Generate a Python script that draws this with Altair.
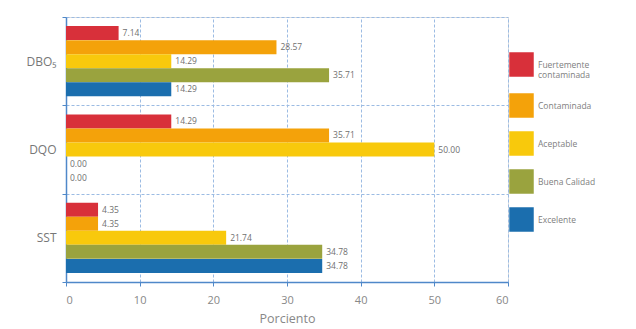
import altair as alt
import pandas as pd

params = ["DBO₅", "DQO", "SST"]
categories = ["Fuertemente contaminada", "Contaminada", "Aceptable", "Buena Calidad", "Excelente"]
colors = ["#d8303a", "#f4a20a", "#f8c90c", "#9aa33e", "#1b6eae"]
dbo5 = [7.14, 28.57, 14.29, 35.71, 14.29]
dqo = [14.29, 35.71, 50.00, 0.00, 0.00]
sst = [4.35, 4.35, 21.74, 34.78, 34.78]
x_ticks = [0, 10, 20, 30, 40, 50, 60]

rows = []
for p, vals in zip(params, [dbo5, dqo, sst]):
    for c, v in zip(categories, vals):
        rows.append({"Parametro": p, "Categoria": c, "Valor": v})
df = pd.DataFrame(rows)

FONT = "Open Sans"
GRID = "#9bbbe3"
AXIS = "#4f88c9"

y_enc = alt.Y("Parametro:N", sort=params,
              scale=alt.Scale(paddingInner=0, paddingOuter=0),
              axis=alt.Axis(title=None, tickBand="extent", grid=True,
                            gridColor=GRID, gridDash=[3, 2], gridWidth=1,
                            domainColor=AXIS, domainWidth=1.5,
                            tickColor=AXIS, tickSize=4, labelPadding=6,
                            labelFontSize=12, labelColor="#777777", labelFont=FONT))
yoff = alt.YOffset("Categoria:N", sort=categories,
                   scale=alt.Scale(paddingOuter=0.65, paddingInner=0))
x_enc = alt.X("Valor:Q",
              scale=alt.Scale(domain=[0, 60], nice=False),
              axis=alt.Axis(title="Porciento", values=x_ticks, format="d",
                            grid=True, gridColor=GRID, gridDash=[3, 2],
                            domainColor=AXIS, domainWidth=1.5,
                            tickColor=AXIS, tickSize=4, labelPadding=8,
                            labelFontSize=11, labelColor="#888888", labelFont=FONT,
                            titleFontSize=12.5, titleFontWeight="normal",
                            titleColor="#888888", titleFont=FONT, titlePadding=7))

bars = alt.Chart(df).mark_bar(size=14).encode(
    x=x_enc,
    y=y_enc,
    yOffset=yoff,
    color=alt.Color("Categoria:N", sort=categories,
                    scale=alt.Scale(domain=categories, range=colors),
                    legend=alt.Legend(title=None, orient="none", legendX=443, legendY=35,
                                      symbolType="square", symbolSize=600,
                                      symbolStrokeWidth=0, rowPadding=13,
                                      labelFontSize=8.5, labelColor="#808080",
                                      labelFont=FONT, labelLimit=200,
                                      labelExpr="datum.label == 'Fuertemente contaminada' ? ['Fuertemente', 'contaminada'] : datum.label")),
)

labels = alt.Chart(df).mark_text(align="left", baseline="middle", dx=4,
                                 fontSize=8.5, color="#707070", font=FONT).encode(
    x=alt.X("Valor:Q"),
    y=alt.Y("Parametro:N", sort=params),
    yOffset=yoff,
    text=alt.Text("Valor:Q", format=".2f"),
)

chart = alt.layer(bars, labels).properties(
    width=442, height=265,
    padding={"left": 18, "top": 3, "right": 5, "bottom": 2},
).configure_view(stroke=GRID, strokeDash=[3, 2]).configure(background="white")

chart.save("out.html", embed_options={"renderer": "svg", "actions": False})
